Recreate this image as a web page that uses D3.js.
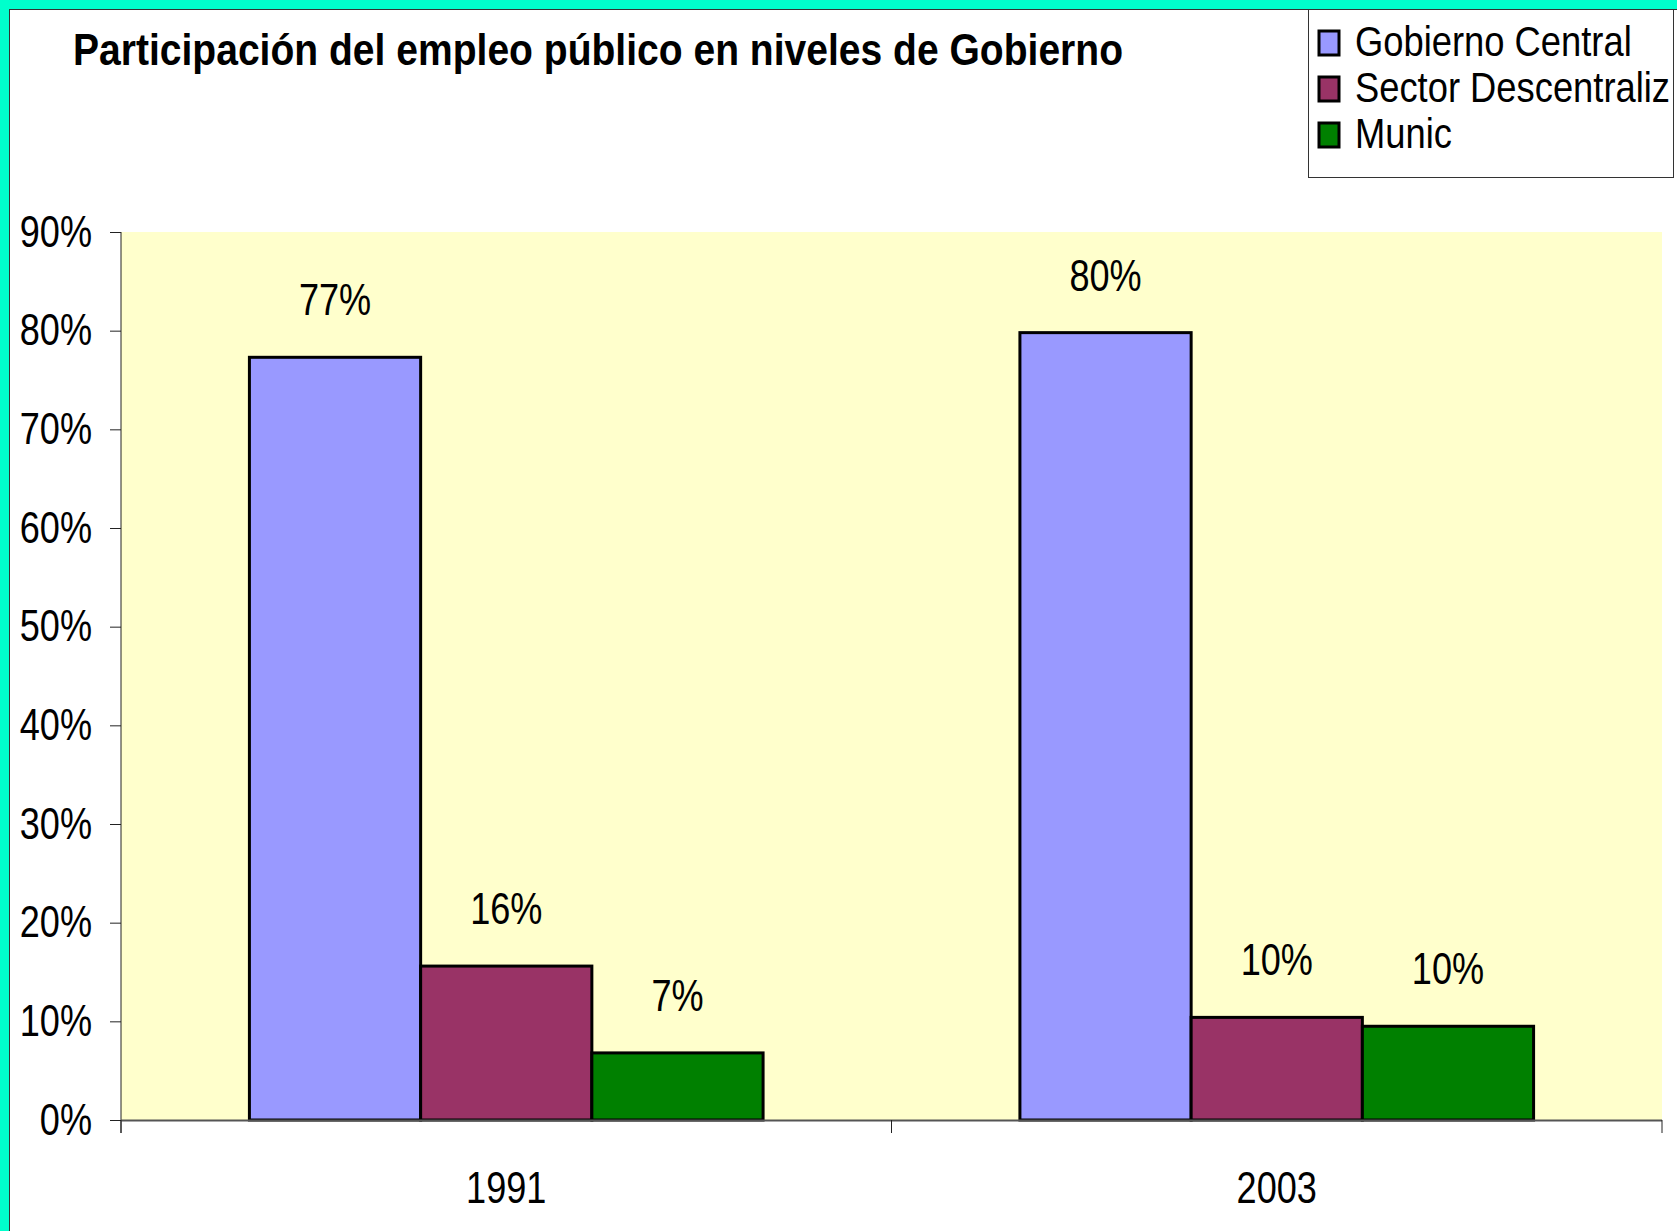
<!DOCTYPE html>
<html>
<head>
<meta charset="utf-8">
<script src="https://cdn.jsdelivr.net/npm/d3@7"></script>
<style>
  html, body { margin: 0; padding: 0; background: #00ffcc; overflow: hidden; }
  svg { display: block; }
</style>
</head>
<body>
<div id="chart"></div>
<script>
// data
var years = ['1991', '2003'];
var series = ['Gobierno Central', 'Sector Descentraliz', 'Munic'];
var gobiernoCentral = [77.3, 79.8];
var sectorDescentral = [15.6, 10.4];
var munic = [6.8, 9.5];
var yTicks = [0, 10, 20, 30, 40, 50, 60, 70, 80, 90];
var colors = ['#9999ff', '#993366', '#008000'];

var rows = years.map(function(y, i) {
    return { year: y, values: [gobiernoCentral[i], sectorDescentral[i], munic[i]] };
});

// setup SVG
var width = 1677, height = 1231;
var plot = { left: 121, right: 1662, top: 232, bottom: 1120 };
var font = '"Liberation Sans", Arial, sans-serif';

// squeeze text horizontally, no narrow font installed
function narrow(sel, k) {
    sel.each(function() {
        var w = this.getComputedTextLength();
        d3.select(this).attr('textLength', w * k).attr('lengthAdjust', 'spacingAndGlyphs');
    });
}

var svg = d3.select('#chart').append('svg')
    .attr('width', width).attr('height', height);

// cyan frame + white panel
svg.append('rect').attr('x', 0).attr('y', 0)
    .attr('width', width).attr('height', height).attr('fill', '#00ffcc');
svg.append('rect').attr('x', 9.5).attr('y', 9.5)
    .attr('width', width).attr('height', height)
    .attr('fill', 'white').attr('stroke', '#333').attr('stroke-width', 1);

// title
svg.append('text')
    .attr('x', 73).attr('y', 65)
    .attr('font-family', font)
    .attr('font-weight', 'bold')
    .attr('font-size', '45px')
    .attr('textLength', 1050).attr('lengthAdjust', 'spacingAndGlyphs')
    .text('Participación del empleo público en niveles de Gobierno');

// scales
var x0 = d3.scaleBand().domain(years)
    .range([plot.left, plot.right])
    .paddingInner(1 / 3).paddingOuter(1 / 6);
var x1 = d3.scaleBand().domain(d3.range(series.length))
    .range([0, x0.bandwidth()]);
var y = d3.scaleLinear().domain([0, 90]).range([plot.bottom, plot.top]);

// plot background
svg.append('rect')
    .attr('x', plot.left).attr('y', plot.top)
    .attr('width', plot.right - plot.left).attr('height', plot.bottom - plot.top)
    .attr('fill', '#ffffcc');

// bars
var groups = svg.selectAll('g.year')
    .data(rows).enter().append('g')
    .attr('class', 'year')
    .attr('transform', function(d) { return 'translate(' + x0(d.year) + ',0)'; });

groups.selectAll('rect')
    .data(function(d) { return d.values; })
    .enter().append('rect')
    .attr('x', function(d, i) { return x1(i); })
    .attr('y', function(d) { return y(d); })
    .attr('width', x1.bandwidth())
    .attr('height', function(d) { return y(0) - y(d); })
    .attr('fill', function(d, i) { return colors[i]; })
    .attr('stroke', 'black').attr('stroke-width', 3);

// value labels
var vals = groups.selectAll('text')
    .data(function(d) { return d.values; })
    .enter().append('text')
    .attr('x', function(d, i) { return x1(i) + x1.bandwidth() / 2; })
    .attr('y', function(d) { return y(d) - 42; })
    .attr('text-anchor', 'middle')
    .attr('font-family', font).attr('font-size', '44px')
    .text(function(d) { return Math.round(d) + '%'; });
narrow(vals, 0.82);

// y axis
var yAxis = svg.append('g')
    .attr('transform', 'translate(' + plot.left + ',0)')
    .call(d3.axisLeft(y).tickValues(yTicks)
        .tickFormat(function(d) { return d + '%'; })
        .tickSize(11).tickPadding(18));
yAxis.select('.domain').remove();
yAxis.append('line')
    .attr('x1', 0).attr('x2', 0)
    .attr('y1', plot.top).attr('y2', plot.bottom + 13)
    .attr('stroke', '#222');
yAxis.selectAll('.tick line').attr('stroke', '#222');
yAxis.selectAll('.tick text')
    .attr('font-family', font).attr('font-size', '44px').attr('fill', 'black');
narrow(yAxis.selectAll('.tick text'), 0.82);

// x axis
var xAxis = svg.append('g')
    .attr('transform', 'translate(0,' + plot.bottom + ')');
xAxis.append('line')
    .attr('x1', plot.left).attr('x2', plot.right)
    .attr('y1', 0.5).attr('y2', 0.5)
    .attr('stroke', '#555').attr('stroke-width', 2);
var xBounds = [plot.left, plot.left + x0.step(), plot.right];
xAxis.selectAll('line.xt')
    .data(xBounds).enter().append('line')
    .attr('class', 'xt')
    .attr('x1', function(d) { return d; }).attr('x2', function(d) { return d; })
    .attr('y1', 0).attr('y2', 13)
    .attr('stroke', '#222');
var xl = xAxis.selectAll('text')
    .data(years).enter().append('text')
    .attr('x', function(d) { return x0(d) + x0.bandwidth() / 2; })
    .attr('y', 83)
    .attr('text-anchor', 'middle')
    .attr('font-family', font).attr('font-size', '44px')
    .text(function(d) { return d; });
narrow(xl, 0.82);

// legend
var legend = svg.append('g');
legend.append('rect')
    .attr('x', 1308.5).attr('y', 9.5)
    .attr('width', 365).attr('height', 168)
    .attr('fill', 'white').attr('stroke', '#333').attr('stroke-width', 1);
var item = legend.selectAll('g.item')
    .data(series).enter().append('g')
    .attr('class', 'item')
    .attr('transform', function(d, i) { return 'translate(1319,' + (31 + i * 46) + ')'; });
item.append('rect')
    .attr('width', 20).attr('height', 24)
    .attr('fill', function(d, i) { return colors[i]; })
    .attr('stroke', 'black').attr('stroke-width', 3);
var lt = item.append('text')
    .attr('x', 36).attr('y', 25)
    .attr('font-family', font).attr('font-size', '43px')
    .text(function(d) { return d; });
narrow(lt, 0.845);
</script>
</body>
</html>
